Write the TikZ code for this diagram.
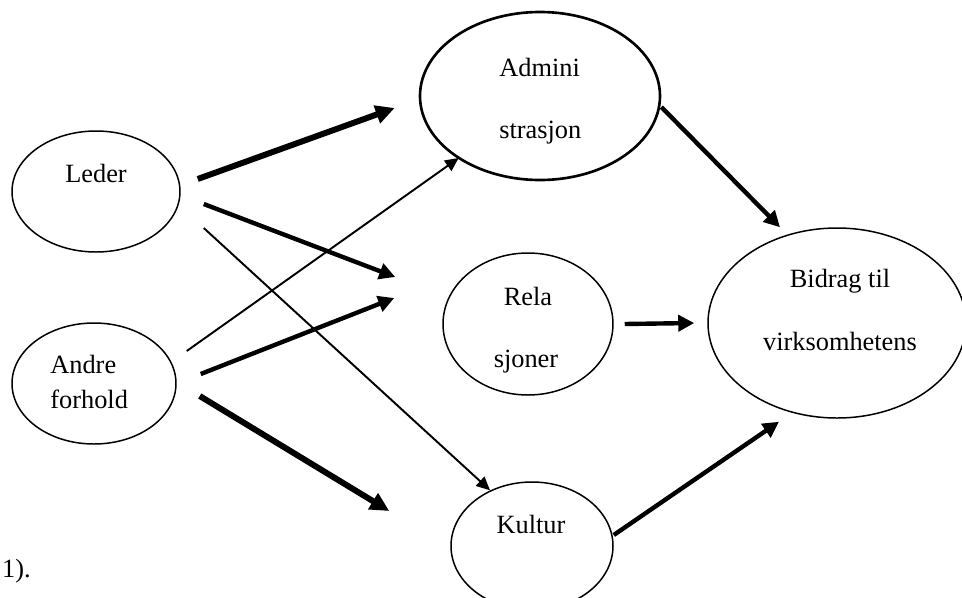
\documentclass[tikz,border=0pt]{standalone}
\usepackage{fontspec}
\setmainfont{Liberation Serif}
\usetikzlibrary{shapes.geometric,arrows.meta}

\begin{document}
\begin{tikzpicture}[
  oval/.style={draw,ellipse,line width=0.85pt,inner sep=0pt},
  word/.style={font=\fontsize{15}{18}\selectfont,inner sep=0pt,anchor=base},
  thinarr/.style={line width=1.1pt,-{Triangle[length=0.27cm,width=0.25cm]}},
  medarr/.style={line width=2.5pt,-{Triangle[length=0.32cm,width=0.32cm]}},
  heavyarr/.style={line width=3.4pt,-{Triangle[length=0.38cm,width=0.36cm]}}]

% Page frame
\useasboundingbox (0,0) rectangle (19.24,-11.94);

% The ovals
\node [oval,minimum width=3.36cm,minimum height=2.42cm] (leder) at (1.92,-3.83) {};
\node [oval,minimum width=3.28cm,minimum height=2.42cm] (andre) at (1.88,-7.67) {};
\node [oval,line width=1.5pt,minimum width=4.80cm,minimum height=3.36cm] (admin) at (10.80,-1.92) {};
\node [oval,minimum width=3.40cm,minimum height=2.84cm] (rela) at (10.56,-6.48) {};
\node [oval,minimum width=3.24cm,minimum height=2.56cm] (kultur) at (10.64,-10.92) {};
\node [oval,minimum width=5.16cm,minimum height=3.80cm] (bidrag) at (16.74,-6.46) {};

% Texts inside the ovals
\node [word] (leder-t) at ([yshift=0.19cm]leder.center) {Leder};
\node [word,anchor=base west] (andre-t1) at ([shift={(-0.88,0.21)}]andre.center) {Andre};
\node [word,anchor=base west] (andre-t2) at ([shift={(-0.88,-0.49)}]andre.center) {forhold};
\node [word,anchor=base west] (admin-t1) at ([shift={(-0.82,0.40)}]admin.center) {Admini};
\node [word,anchor=base west] (admin-t2) at ([shift={(-0.82,-0.84)}]admin.center) {strasjon};
\node [word] (rela-t1) at ([yshift=0.38cm]rela.center) {Rela};
\node [word] (rela-t2) at ([shift={(-0.04,-0.86)}]rela.center) {sjoner};
\node [word] (kultur-t) at ([shift={(-0.02,0.26)}]kultur.center) {Kultur};
\node [word] (bidrag-t1) at ([shift={(0.06,0.72)}]bidrag.center) {Bidrag til};
\node [word] (bidrag-t2) at ([shift={(0.06,-0.54)}]bidrag.center) {virksomhetens};

% Left-over text at the page edge
\node [word,anchor=base east] (rest) at (0.62,-11.54) {1).};

% Arrows from the two causes
\draw [heavyarr] ([shift={(0.34,0.25)}]leder.east) -- ([shift={(-0.48,-0.24)}]admin.west);
\draw [medarr] ([shift={(0.46,-0.25)}]leder.east) -- ([shift={(-0.94,0.94)}]rela.west);
\draw [thinarr] ([shift={(0.46,-0.73)}]leder.east) -- ([shift={(-0.84,-0.18)}]kultur.north);
\draw [thinarr] ([shift={(0.20,0.65)}]andre.east) -- ([shift={(0.80,-1.24)}]admin.west);
\draw [medarr] ([shift={(0.48,0.19)}]andre.east) -- ([shift={(-0.96,0.52)}]rela.west);
\draw [heavyarr] ([shift={(0.46,-0.25)}]andre.east) -- ([shift={(-1.22,0.70)}]kultur.west);

% Arrows into the result
\draw [medarr] ([yshift=-0.22cm]admin.east) -- ([xshift=-1.14cm]bidrag.north);
\draw [medarr] ([xshift=0.22cm]rela.east) -- ([xshift=-0.26cm]bidrag.west);
\draw [medarr] ([yshift=0.22cm]kultur.east) -- ([shift={(-1.16,-0.06)}]bidrag.south);

\end{tikzpicture}
\end{document}
